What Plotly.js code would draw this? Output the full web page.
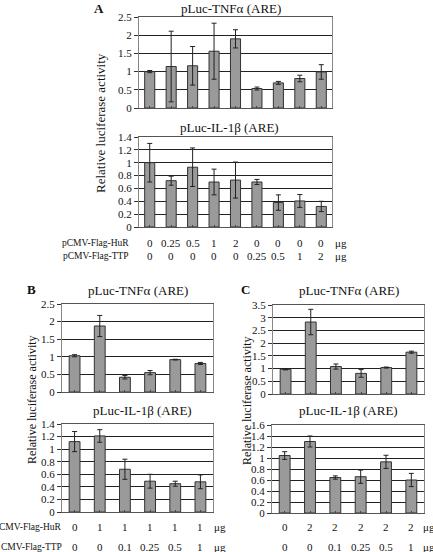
<!DOCTYPE html>
<html><head><meta charset="utf-8">
<script src="https://cdn.plot.ly/plotly-3.0.1.min.js"></script>
<style>html,body{margin:0;padding:0;background:#fff}#c{width:433px;height:552px}</style>
</head><body><div id="c"></div>
<script>
// Panel A
const hurA = ['0','0.25','0.5','1','2','0','0','0','0'];
const ttpA = ['0','0','0','0','0','0.25','0.5','1','2'];
const tnfA = [1.00,1.14,1.16,1.56,1.90,0.535,0.69,0.81,0.99];
const tnfAerr = [0.03,0.97,0.53,0.77,0.25,0.04,0.04,0.09,0.20];
const ilA = [1.00,0.72,0.93,0.70,0.73,0.70,0.38,0.405,0.32];
const ilAerr = [0.30,0.07,0.30,0.20,0.28,0.04,0.12,0.10,0.08];
// Panel B
const hurB = ['0','1','1','1','1','1'];
const ttpB = ['0','0','0.1','0.25','0.5','1'];
const tnfB = [1.03,1.875,0.42,0.55,0.92,0.81];
const tnfBerr = [0.03,0.30,0.05,0.06,0.01,0.03];
const ilB = [1.12,1.21,0.68,0.49,0.45,0.48];
const ilBerr = [0.16,0.10,0.16,0.11,0.04,0.11];
// Panel C
const hurC = ['0','2','2','2','2','2'];
const ttpC = ['0','0','0.1','0.25','0.5','1'];
const tnfC = [0.97,2.83,1.08,0.81,1.04,1.645];
const tnfCerr = [0.02,0.50,0.10,0.15,0.02,0.04];
const ilC = [1.045,1.30,0.645,0.66,0.93,0.60];
const ilCerr = [0.07,0.10,0.03,0.12,0.12,0.12];

const titleTNF = 'pLuc-TNFα (ARE)';
const titleIL = 'pLuc-IL-1β (ARE)';
const yTitle = 'Relative luciferase activity';
const rowHuR = 'pCMV-Flag-HuR';
const rowTTP = 'pCMV-Flag-TTP';
const rowHuRcut = 'CMV-Flag-HuR';   // panel B: left part lies outside the picture
const rowTTPcut = 'CMV-Flag-TTP';
const unit = 'μg';

const W = 433, H = 552;
const px = v => v / W;
const py = v => 1 - v / H;
const FONT = '"Liberation Serif", "Times New Roman", serif';

function idx(n){ return Array.from({length:n}, (_, i) => i); }
function bar(vals, errs, xa, ya, w){
  return {type:'bar', x: idx(vals.length), y: vals, xaxis: xa, yaxis: ya, width: w,
    marker:{color:'#9a9a9a', line:{color:'#333', width:1}},
    error_y:{type:'data', array: errs, visible:true, color:'#222', thickness:1, width:2.5},
    hoverinfo:'skip', showlegend:false};
}
const data = [
  bar(tnfA, tnfAerr, 'x', 'y', 0.47),
  bar(ilA, ilAerr, 'x2', 'y2', 0.47),
  bar(tnfB, tnfBerr, 'x3', 'y3', 0.43),
  bar(ilB, ilBerr, 'x4', 'y4', 0.43),
  bar(tnfC, tnfCerr, 'x5', 'y5', 0.43),
  bar(ilC, ilCerr, 'x6', 'y6', 0.43)
];

function xax(n, x0, x1, anchor){
  return {domain:[px(x0), px(x1)], anchor: anchor, range:[-0.5, n-0.5], showticklabels:false,
    showgrid:false, zeroline:false, showline:true, linecolor:'#555', linewidth:1, mirror:true,
    ticks:'inside', tickson:'boundaries', ticklen:2, tickcolor:'#444', tickvals: idx(n), fixedrange:true};
}
function yax(max, dt, y0, y1, anchor){
  return {domain:[py(y1), py(y0)], anchor: anchor, range:[0, max], dtick: dt, tick0:0,
    showgrid:true, gridcolor:'#222', gridwidth:1, zeroline:false, showline:true, linecolor:'#888',
    linewidth:1, mirror:true, ticks:'outside', ticklen:4, tickcolor:'#333',
    tickfont:{family:FONT, size:11, color:'#111'}, fixedrange:true};
}

const layout = {
  width: W, height: H, margin:{l:0, r:0, t:0, b:0}, paper_bgcolor:'#fff', plot_bgcolor:'#fff',
  font:{family:FONT, color:'#111'}, bargap:0.5,
  xaxis: xax(9, 139, 332, 'y'), yaxis: yax(2.5, 0.5, 17, 108, 'x'),
  xaxis2: xax(9, 139, 332, 'y2'), yaxis2: yax(1.4, 0.2, 137, 227, 'x2'),
  xaxis3: xax(6, 62, 213, 'y3'), yaxis3: yax(2.5, 0.5, 304, 392, 'x3'),
  xaxis4: xax(6, 62, 213, 'y4'), yaxis4: yax(1.4, 0.2, 424, 512, 'x4'),
  xaxis5: xax(6, 273, 424, 'y5'), yaxis5: yax(3.5, 0.5, 305, 394, 'x5'),
  xaxis6: xax(6, 272, 424, 'y6'), yaxis6: yax(1.6, 0.2, 425, 513, 'x6'),
  annotations: []
};
const ann = layout.annotations;
function text(t, x, y, opts){
  ann.push(Object.assign({text:t, x:px(x), y:py(y), xref:'paper', yref:'paper', showarrow:false,
    xanchor:'center', yanchor:'middle', font:{family:FONT, size:13, color:'#111'}}, opts||{}));
}
// panel letters
text('<b>A</b>', 99, 9);
text('<b>B</b>', 31, 289);
text('<b>C</b>', 245, 289);
// titles
text(titleTNF, 231, 9);
text(titleIL, 230, 127);
text(titleTNF, 138, 290);
text(titleIL, 142, 410);
text(titleTNF, 349, 290);
text(titleIL, 348, 410);
// y titles
text(yTitle, 100, 123, {textangle:-90});
text(yTitle, 32, 400, {textangle:-90, font:{family:FONT, size:12, color:'#111'}});
text(yTitle, 247, 400, {textangle:-90, font:{family:FONT, size:12, color:'#111'}});

// dose rows
function rows(hur, ttp, xa, yr1, yr2, lab1, lab2, labelRight, unitLeft){
  const f = {family:FONT, size:11, color:'#111'};
  hur.forEach((v, i) => ann.push({text:v, x:i, xref:xa, y:py(yr1), yref:'paper', showarrow:false,
    xanchor:'center', yanchor:'middle', font:f}));
  ttp.forEach((v, i) => ann.push({text:v, x:i, xref:xa, y:py(yr2), yref:'paper', showarrow:false,
    xanchor:'center', yanchor:'middle', font:f}));
  const lf = {family:FONT, size:9.5, color:'#111'};
  if (lab1 !== null){
    text(lab1, labelRight, yr1, {xanchor:'right', font:lf});
    text(lab2, labelRight, yr2, {xanchor:'right', font:lf});
  }
  text(unit, unitLeft, yr1, {xanchor:'left', font:f});
  text(unit, unitLeft, yr2, {xanchor:'left', font:f});
}
rows(hurA, ttpA, 'x2', 243, 256, rowHuR, rowTTP, 131, 333);
rows(hurB, ttpB, 'x4', 527, 547, rowHuRcut, rowTTPcut, 64, 212);
rows(hurC, ttpC, 'x6', 527, 547, null, null, 0, 421);

Plotly.newPlot('c', data, layout, {staticPlot:true, displayModeBar:false});
</script></body></html>
